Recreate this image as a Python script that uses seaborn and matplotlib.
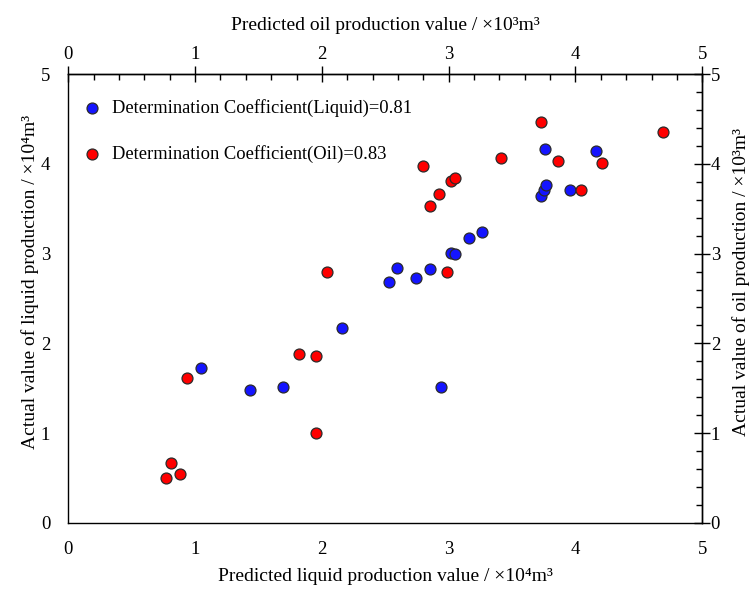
import matplotlib
matplotlib.use("Agg")
import matplotlib.pyplot as plt
from matplotlib.ticker import MultipleLocator
import seaborn as sns

# Liquid production (x10^4 m^3): predicted vs actual
liquid_pred = [1.05, 1.43, 1.69, 2.16, 2.53, 2.59, 2.74, 2.85, 2.94, 3.02,
               3.05, 3.16, 3.26, 3.73, 3.75, 3.77, 3.76, 3.96, 4.16]
liquid_actual = [1.72, 1.48, 1.51, 2.17, 2.68, 2.84, 2.73, 2.83, 1.51, 3.01,
                 3.00, 3.18, 3.24, 3.64, 3.71, 3.77, 4.17, 3.71, 4.14]

# Oil production (x10^3 m^3): predicted vs actual
oil_pred = [0.77, 0.81, 0.88, 0.94, 1.82, 1.95, 1.95, 2.04, 2.80, 2.85,
            2.92, 3.02, 3.05, 2.99, 3.41, 3.73, 3.86, 4.04, 4.21, 4.69]
oil_actual = [0.50, 0.67, 0.54, 1.61, 1.88, 1.86, 1.00, 2.80, 3.98, 3.53,
              3.66, 3.81, 3.84, 2.79, 4.07, 4.47, 4.03, 3.71, 4.01, 4.36]

r2_liquid = 0.81
r2_oil = 0.83

axis_ticks = [0, 1, 2, 3, 4, 5]

sns.set_style("white")
plt.rcParams["font.family"] = ["Liberation Serif", "DejaVu Serif"]
plt.rcParams["text.color"] = "black"
plt.rcParams["axes.labelcolor"] = "black"
plt.rcParams["xtick.color"] = "black"
plt.rcParams["ytick.color"] = "black"

fig = plt.figure(figsize=(7.52, 5.92), dpi=100)
ax = fig.add_axes([0.0908, 0.1171, 0.8431, 0.7574])

marker_kw = dict(s=62, edgecolor="#2a2a2a", linewidth=0.9, zorder=3)
sns.scatterplot(x=liquid_pred, y=liquid_actual, color="#1414ff",
                label=f"Determination Coefficient(Liquid)={r2_liquid:.2f}",
                ax=ax, **marker_kw)
sns.scatterplot(x=oil_pred, y=oil_actual, color="#ff0000",
                label=f"Determination Coefficient(Oil)={r2_oil:.2f}",
                ax=ax, **marker_kw)

ax.set_xlim(0, 5)
ax.set_ylim(0, 5)
ax.set_xticks(axis_ticks)
ax.set_yticks(axis_ticks)

tick_fs = 13.5
label_fs = 14

sec_x = ax.secondary_xaxis("top")
sec_y = ax.secondary_yaxis("right")
sec_x.set_xticks(axis_ticks)
sec_y.set_yticks(axis_ticks)

ax.set_xlabel("Predicted liquid production value / ×10⁴m³", fontsize=label_fs)
ax.set_ylabel("Actual value of liquid production / ×10⁴m³", fontsize=label_fs)
sec_x.set_xlabel("Predicted oil production value / ×10³m³", fontsize=label_fs)
sec_y.set_ylabel("Actual value of oil production / ×10³m³", fontsize=label_fs)

ax.xaxis.set_label_coords(0.5, -0.102)
ax.yaxis.set_label_coords(-0.046, 0.537)
sec_x.xaxis.set_label_coords(0.5, 1.099, transform=ax.transAxes)
sec_y.yaxis.set_label_coords(1.047, 0.537, transform=ax.transAxes)

for a in (ax, sec_x, sec_y):
    for sp in a.spines.values():
        sp.set_linewidth(1.0)
        sp.set_color("black")

ax.xaxis.set_minor_locator(MultipleLocator(0.2))
ax.yaxis.set_minor_locator(MultipleLocator(0.2))
sec_x.xaxis.set_minor_locator(MultipleLocator(0.2))
sec_y.yaxis.set_minor_locator(MultipleLocator(0.2))

for a in (ax, sec_x, sec_y):
    a.tick_params(which="major", direction="inout", length=11, width=1.0,
                  labelsize=tick_fs, color="black", labelcolor="black")
    a.tick_params(which="minor", direction="in", length=4, width=1.0, color="black")

ax.tick_params(axis="x", which="major", pad=7.5)
ax.tick_params(axis="y", which="major", pad=7.5)
sec_x.tick_params(axis="x", which="major", pad=2.5)
sec_y.tick_params(axis="y", which="major", pad=0.5)

leg = ax.legend(loc="upper left", bbox_to_anchor=(0.023, 0.945), frameon=False,
                fontsize=13.3, labelspacing=1.5, handlelength=1.0,
                handletextpad=0.6, borderpad=0, borderaxespad=0)

fig.savefig("out.png", dpi=100)
